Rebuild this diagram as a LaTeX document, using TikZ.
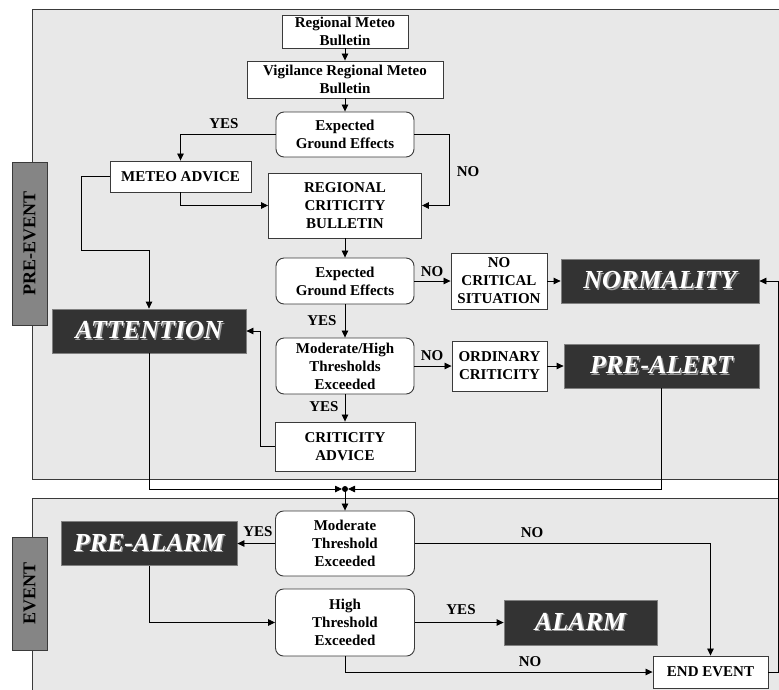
\documentclass[tikz,border=0pt]{standalone}
\usepackage{fontspec}
\setmainfont{Liberation Serif}
\usetikzlibrary{arrows.meta,calc}
\definecolor{framefill}{HTML}{E8E8E8}
\definecolor{lineclr}{HTML}{3A3A3A}
\definecolor{darkfill}{HTML}{333333}
\definecolor{tabfill}{HTML}{858585}
\newcommand\shd[1]{\makebox[0pt][l]{\hspace{1.3pt}\raisebox{-1.3pt}{\textcolor{gray!80}{#1}}}#1}
\tikzset{
  box/.style={draw=lineclr, line width=0.9pt, fill=white, align=center, inner sep=0pt,
    font=\bfseries\fontsize{15}{18}\selectfont},
  rbox/.style={box, rounded corners=8pt},
  dark/.style={draw=gray, line width=0.8pt, fill=darkfill, text=white, inner sep=0pt,
    font=\bfseries\itshape\fontsize{26}{28}\selectfont},
  tabbox/.style={draw=lineclr, line width=0.9pt, fill=tabfill, rotate=90, inner sep=0pt,
    font=\bfseries\fontsize{18}{20}\selectfont},
  lbl/.style={font=\bfseries\fontsize{15}{18}\selectfont, inner sep=0pt},
  arr/.style={draw=black, line width=0.8pt, -{Triangle[length=7pt,width=6.5pt]}},
  con/.style={draw=black, line width=0.8pt},
  frame/.style={draw=lineclr, line width=1pt}
}
\begin{document}
\begin{tikzpicture}[x=1pt,y=-1pt]
\clip (0,0) rectangle (779,689);
\useasboundingbox (0,0) rectangle (779,689);
\fill[white] (0,0) rectangle (779,689);
% frames
\fill[framefill] (32,9) rectangle (800,479);
\draw[frame] (800,9) -- (32,9) -- (32,479) -- (800,479);
\fill[framefill] (32,498) rectangle (800,720);
\draw[frame] (800,498) -- (32,498) -- (32,720);
% tabs
\node[tabbox, minimum width=163pt, minimum height=35pt] (tpre) at (29.5,243.5) {PRE-EVENT};
\node[tabbox, minimum width=113pt, minimum height=35pt] (tev) at (29.5,593.5) {EVENT};
% nodes
\node[box, minimum width=126pt, minimum height=33pt] (rmb) at (345,31.5) {Regional Meteo\\Bulletin};
\node[box, minimum width=196pt, minimum height=37pt] (vrmb) at (345,79.5) {Vigilance Regional Meteo\\Bulletin};
\node[rbox, minimum width=138pt, minimum height=45pt] (eg1) at (345,134.5) {Expected\\Ground Effects};
\node[box, minimum width=141pt, minimum height=31pt] (ma) at (180.5,176.5) {METEO ADVICE};
\node[box, minimum width=153pt, minimum height=65pt] (rcb) at (345,205.5) {REGIONAL\\CRITICITY\\BULLETIN};
\node[rbox, minimum width=138pt, minimum height=46pt] (eg2) at (345,281) {Expected\\Ground Effects};
\node[rbox, minimum width=138pt, minimum height=56pt] (mh) at (345,366) {Moderate/High\\Thresholds\\Exceeded};
\node[box, minimum width=140pt, minimum height=49pt] (ca) at (345,446.5) {CRITICITY\\ADVICE};
\node[dark, minimum width=194pt, minimum height=44pt] (att) at (149,331) {\shd{ATTENTION}};
\node[box, minimum width=96pt, minimum height=56pt] (ncs) at (499,281) {NO\\CRITICAL\\SITUATION};
\node[dark, minimum width=198pt, minimum height=44pt] (norm) at (660,281) {\shd{NORMALITY}};
\node[box, minimum width=95pt, minimum height=50pt] (oc) at (499.5,366) {ORDINARY\\CRITICITY};
\node[dark, minimum width=195pt, minimum height=44pt] (pal) at (661.5,366) {\shd{PRE-ALERT}};
\node[rbox, minimum width=139pt, minimum height=65pt] (mt) at (345,543.5) {Moderate\\Threshold\\Exceeded};
\node[dark, minimum width=176pt, minimum height=44pt] (pam) at (149,543.5) {\shd{PRE-ALARM}};
\node[rbox, minimum width=139pt, minimum height=67pt] (ht) at (345,622.5) {High\\Threshold\\Exceeded};
\node[dark, minimum width=153pt, minimum height=45pt] (alm) at (580.5,622.5) {\shd{ALARM}};
\node[box, minimum width=115pt, minimum height=32pt] (ee) at (710.5,672) {END EVENT};
% connectors
\draw[arr] (rmb) -- (vrmb);
\draw[arr] (vrmb) -- (eg1);
\draw[arr] (eg1.west) -| (ma.north);
\node[lbl] (lyes1) at (224,124) {YES};
\draw[arr] (eg1.east) -- ++(35,0) |- (rcb.east);
\node[lbl] (lno1) at (468,172) {NO};
\draw[arr] (ma.south) |- (rcb.west);
\draw[arr] (ma.west) -- ++(-28,0) |- ($(att.north)+(0,-58)$) -- (att.north);
\draw[arr] (rcb) -- (eg2);
\draw[arr] (eg2) -- (mh);
\node[lbl] (lyes2) at (322,321) {YES};
\draw[arr] (mh) -- (ca);
\node[lbl] (lyes3) at (324,407) {YES};
\draw[arr] (eg2.east) -- (ncs.west);
\node[lbl] (lno2) at (432,272) {NO};
\draw[arr] (ncs) -- (norm);
\draw[arr] (mh.east) -- (oc.west);
\node[lbl] (lno3) at (432,356) {NO};
\draw[arr] (oc) -- (pal);
\draw[arr] (ca.west) -- ++(-14,0) |- (att.east);
\coordinate (j) at (345,489);
\draw[arr] (att.south) |- ($(j)+(-3,0)$);
\draw[arr] (pal.south) |- ($(j)+(3,0)$);
\fill (j) circle (3pt);
\draw[arr] (j) -- (mt.north);
\draw[arr] (mt.west) -- (pam.east);
\node[lbl] (lyes4) at (258,532) {YES};
\draw[arr] (mt.east) -| (ee.north);
\node[lbl] (lno4) at (532,533) {NO};
\draw[arr] (pam.south) |- (ht.west);
\draw[arr] (ht.east) -- (alm.west);
\node[lbl] (lyes5) at (461,610) {YES};
\draw[arr] (ht.south) |- (ee.west);
\node[lbl] (lno5) at (530,662) {NO};
\draw[arr] (ee.east) -- ++(10,0) |- (norm.east);
\end{tikzpicture}
\end{document}
